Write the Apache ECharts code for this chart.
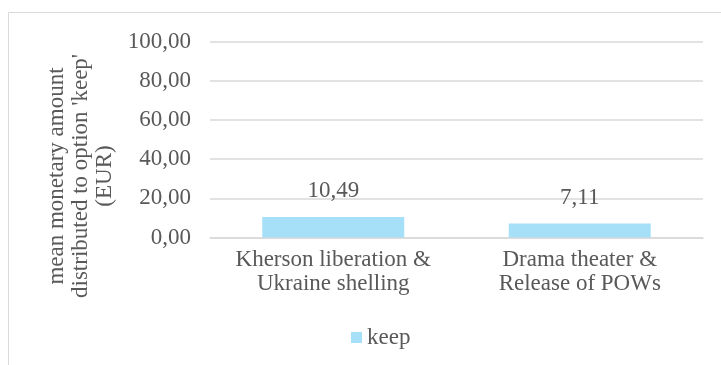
<!DOCTYPE html>
<html>
<head>
<meta charset="utf-8">
<script src="https://cdn.jsdelivr.net/npm/echarts@6/dist/echarts.min.js"></script>
<style>
  html, body { margin: 0; padding: 0; background: #ffffff; }
  #chart { width: 721px; height: 365px; }
</style>
</head>
<body>
<div id="chart"></div>
<script>
// Scenario pairs and the mean amount kept (EUR)
var categories = ['Kherson liberation &\nUkraine shelling', 'Drama theater &\nRelease of POWs'];
var keepValues = [10.49, 7.11];
var seriesName = 'keep';
var axisTitle = "mean monetary amount\ndistributed to option 'keep'\n(EUR)";

var FONT = 'Liberation Serif';
var TEXT = '#595959';
var GRID = '#D9D9D9';

function euro(v) { return Number(v).toFixed(2).replace('.', ','); }

var chart = echarts.init(document.getElementById('chart'));
chart.setOption({
  animation: false,
  backgroundColor: '#ffffff',
  textStyle: { fontFamily: FONT, color: TEXT },
  graphic: [{
    type: 'rect',
    shape: { x: 8.5, y: 12.5, width: 800, height: 400 },
    style: { fill: 'none', stroke: GRID, lineWidth: 1 },
    silent: true
  }, {
    // rotated value-axis title, sitting left of the tick labels
    type: 'text',
    x: 81, y: 176,
    rotation: Math.PI / 2,
    silent: true,
    style: {
      text: axisTitle,
      fontFamily: FONT, fontSize: 23, lineHeight: 24,
      fill: TEXT, align: 'center', verticalAlign: 'middle'
    }
  }],
  grid: { left: 210, right: 18, top: 41.5, bottom: 127.5 },
  legend: {
    left: 346, top: 321,
    icon: 'rect', itemWidth: 11, itemHeight: 11, itemGap: 10,
    textStyle: { fontFamily: FONT, fontSize: 23, color: TEXT },
    data: [seriesName]
  },
  xAxis: {
    type: 'category',
    data: categories,
    axisLine: { show: true, lineStyle: { color: GRID, width: 1.5 } },
    axisTick: { show: false },
    axisLabel: { fontFamily: FONT, fontSize: 23, color: TEXT, lineHeight: 24, margin: 10, interval: 0 }
  },
  yAxis: {
    type: 'value',
    min: 0, max: 100, interval: 20,
    axisLine: { show: false },
    axisTick: { show: false },
    splitLine: { lineStyle: { color: GRID, width: 1.5 } },
    axisLabel: { fontFamily: FONT, fontSize: 23, color: TEXT, margin: 19, formatter: euro }
  },
  series: [{
    name: seriesName,
    type: 'bar',
    data: keepValues,
    barWidth: '57.6%',
    itemStyle: { color: '#A6E0F8' },
    label: {
      show: true, position: 'top', distance: 14,
      fontFamily: FONT, fontSize: 23, color: TEXT,
      formatter: function (p) { return euro(p.value); }
    }
  }]
});
</script>
</body>
</html>
